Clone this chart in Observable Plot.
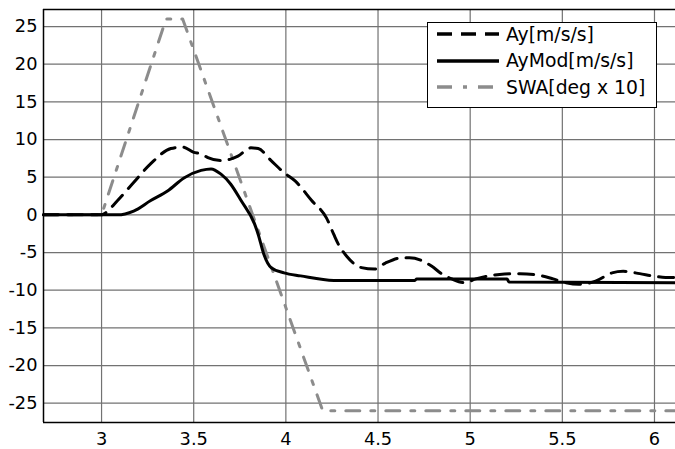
<!DOCTYPE html>
<html>
<head>
<meta charset="utf-8">
<script src="https://cdn.jsdelivr.net/npm/d3@7"></script>
<script src="https://cdn.jsdelivr.net/npm/@observablehq/plot@0.6"></script>
<style>
  body { margin: 0; background: white; }
  #wrap { position: relative; width: 675px; height: 449px; overflow: hidden; }
  #legend { position: absolute; left: 427px; top: 22px; width: 228px; height: 84px;
    border: 1px solid #000; background: #fff; font-family: "DejaVu Sans"; font-size: 18.8px; color: #000; }
  .row { position: absolute; left: 0; height: 26px; display: flex; align-items: center; }
  .row svg { margin-left: 9px; margin-right: 7px; }
</style>
</head>
<body>
<div id="wrap"></div>
<script>
const xDomain = [2.685, 6.114];
const yDomain = [-27.56, 27.26];
const xTicks = [3, 3.5, 4, 4.5, 5, 5.5, 6];
const yTicks = [-25, -20, -15, -10, -5, 0, 5, 10, 15, 20, 25];

const seriesNames = ["Ay[m/s/s]", "AyMod[m/s/s]", "SWA[deg x 10]"];

const ayX = [2.685, 3.0, 3.01, 3.087, 3.174, 3.267, 3.376, 3.44, 3.50, 3.54, 3.577, 3.648, 3.70, 3.74, 3.81, 3.85, 3.92, 3.99, 4.05, 4.14, 4.22, 4.26, 4.285, 4.33, 4.41, 4.48, 4.54, 4.63, 4.67, 4.74, 4.79, 4.85, 4.90, 4.97, 5.03, 5.10, 5.16, 5.27, 5.39, 5.45, 5.52, 5.59, 5.68, 5.77, 5.83, 5.92, 5.99, 6.06, 6.114];
const ayY = [0, 0, 0.1, 1.9, 4.3, 6.8, 8.8, 9.0, 8.3, 8.1, 7.6, 7.2, 7.4, 7.8, 8.9, 8.8, 7.2, 5.6, 4.5, 1.9, -0.4, -2.6, -3.9, -5.5, -7.0, -7.2, -6.4, -5.7, -5.7, -6.1, -6.8, -7.9, -8.5, -9.0, -8.5, -8.1, -7.9, -7.8, -8.1, -8.5, -9.0, -9.2, -8.8, -7.7, -7.5, -7.8, -8.1, -8.3, -8.3];

const modX = [2.685, 3.0, 3.087, 3.174, 3.267, 3.36, 3.447, 3.54, 3.594, 3.648, 3.70, 3.757, 3.83, 3.85, 3.88, 3.92, 3.99, 4.08, 4.26, 4.70, 4.71, 5.20, 5.21, 6.114];
const modY = [0, 0, 0, 0.5, 1.9, 3.2, 4.9, 5.9, 6.1, 5.4, 4.1, 1.9, -1.2, -2.6, -5.2, -7.0, -7.7, -8.1, -8.7, -8.7, -8.5, -8.5, -8.9, -9.0];

const swaX = [2.685, 3.0, 3.35, 3.44, 4.2, 6.114];
const swaY = [0, 0, 26, 26, -26, -26];

const ay = ayX.map((x, i) => ({x, y: ayY[i]}));
const mod = modX.map((x, i) => ({x, y: modY[i]}));
const swa = swaX.map((x, i) => ({x, y: swaY[i]}));

const gridColor = "#727272";
const swaColor = "#8c8c8c";

const chart = Plot.plot({
  width: 675,
  height: 449,
  marginLeft: 43,
  marginRight: 0,
  marginTop: 9,
  marginBottom: 27,
  style: {fontFamily: "DejaVu Sans", fontSize: "17.8px", background: "white", color: "#000"},
  x: {domain: xDomain, ticks: xTicks, tickSize: 0, tickPadding: 10, tickFormat: d => String(d), label: null},
  y: {domain: yDomain, ticks: yTicks, tickSize: 0, tickPadding: 6, tickFormat: d => String(d), label: null},
  marks: [
    Plot.ruleX(xTicks, {stroke: gridColor, strokeWidth: 1.2}),
    Plot.ruleY(yTicks, {stroke: gridColor, strokeWidth: 1.2}),
    Plot.line(swa, {x: "x", y: "y", stroke: swaColor, strokeWidth: 3, strokeDasharray: "14,11,4,11"}),
    Plot.line(mod, {x: "x", y: "y", stroke: "#000", strokeWidth: 3, curve: "monotone-x"}),
    Plot.line(ay, {x: "x", y: "y", stroke: "#000", strokeWidth: 3, strokeDasharray: "15,9", curve: "monotone-x"}),
    Plot.ruleY([yDomain[0], yDomain[1]], {stroke: "#000", strokeWidth: 1.5}),
    Plot.ruleX([xDomain[0]], {stroke: "#000", strokeWidth: 1.5})
  ]
});

const wrap = document.getElementById("wrap");
wrap.appendChild(chart);

// legend
const legend = document.createElement("div");
legend.id = "legend";
const styles = [
  {stroke: "#000", dash: "15,9"},
  {stroke: "#000", dash: null},
  {stroke: swaColor, dash: "15,11,4,11"}
];
seriesNames.forEach((name, i) => {
  const row = document.createElement("div");
  row.className = "row";
  row.style.top = (i * 26.5 - 2) + "px";
  const s = styles[i];
  row.innerHTML = `<svg width="62" height="8"><line x1="0" y1="4" x2="62" y2="4" stroke="${s.stroke}" stroke-width="3.5" ${s.dash ? `stroke-dasharray="${s.dash}"` : ""}/></svg><span>${name}</span>`;
  legend.appendChild(row);
});
wrap.appendChild(legend);
</script>
</body>
</html>
